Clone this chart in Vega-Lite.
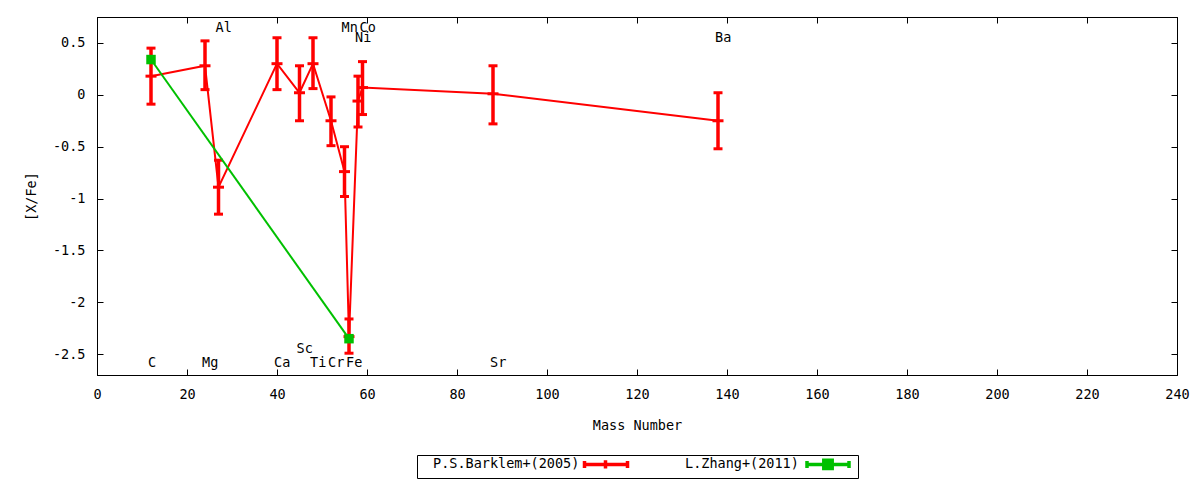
{
  "$schema": "https://vega.github.io/schema/vega-lite/v6.json",
  "width": 1080,
  "height": 358,
  "autosize": "none",
  "padding": {"left": 97, "top": 17, "right": 23, "bottom": 105},
  "background": "white",
  "config": {
    "view": {"stroke": "black", "strokeWidth": 1},
    "font": "DejaVu Sans Mono",
    "axis": {
      "labelFont": "DejaVu Sans Mono", "labelFontSize": 13.5, "labelColor": "black",
      "titleFont": "DejaVu Sans Mono", "titleFontSize": 13.5, "titleFontWeight": "normal", "titleColor": "black",
      "tickColor": "black", "domainColor": "black", "grid": false, "tickSize": -6, "labelPadding": 18,
      "labelFlush": false, "labelOverlap": false
    }
  },
  "datasets": {
    "barklem": [
      {"el": "C", "mass": 12, "val": 0.18, "lo": -0.09, "hi": 0.45},
      {"el": "Mg", "mass": 24, "val": 0.28, "lo": 0.05, "hi": 0.52},
      {"el": "Al", "mass": 27, "val": -0.89, "lo": -1.15, "hi": -0.63},
      {"el": "Ca", "mass": 40, "val": 0.30, "lo": 0.05, "hi": 0.55},
      {"el": "Sc", "mass": 45, "val": 0.02, "lo": -0.25, "hi": 0.28},
      {"el": "Ti", "mass": 48, "val": 0.30, "lo": 0.06, "hi": 0.55},
      {"el": "Cr", "mass": 52, "val": -0.25, "lo": -0.49, "hi": -0.02},
      {"el": "Mn", "mass": 55, "val": -0.74, "lo": -0.98, "hi": -0.50},
      {"el": "Fe", "mass": 56, "val": -2.33, "lo": -2.49, "hi": -2.16},
      {"el": "Ni", "mass": 58, "val": -0.06, "lo": -0.31, "hi": 0.18},
      {"el": "Co", "mass": 59, "val": 0.07, "lo": -0.19, "hi": 0.32},
      {"el": "Sr", "mass": 88, "val": 0.01, "lo": -0.28, "hi": 0.28},
      {"el": "Ba", "mass": 138, "val": -0.25, "lo": -0.52, "hi": 0.02}
    ],
    "zhang": [
      {"el": "C", "mass": 12, "val": 0.34},
      {"el": "Fe", "mass": 56, "val": -2.35}
    ],
    "labels": [
      {"el": "C", "mass": 12, "tier": "low"},
      {"el": "Mg", "mass": 24, "tier": "low"},
      {"el": "Al", "mass": 27, "tier": "high"},
      {"el": "Ca", "mass": 40, "tier": "low"},
      {"el": "Sc", "mass": 45, "tier": "low2"},
      {"el": "Ti", "mass": 48, "tier": "low"},
      {"el": "Cr", "mass": 52, "tier": "low"},
      {"el": "Mn", "mass": 55, "tier": "high"},
      {"el": "Fe", "mass": 56, "tier": "low"},
      {"el": "Ni", "mass": 58, "tier": "high2"},
      {"el": "Co", "mass": 59, "tier": "high"},
      {"el": "Sr", "mass": 88, "tier": "low"},
      {"el": "Ba", "mass": 138, "tier": "high2"}
    ],
    "legend": [
      {"series": "P.S.Barklem+(2005)"},
      {"series": "L.Zhang+(2011)"}
    ]
  },
  "layer": [
    {
      "data": {"name": "barklem"},
      "mark": {"type": "line", "color": "#ff0000", "strokeWidth": 2},
      "encoding": {
        "x": {"field": "mass", "type": "quantitative", "scale": {"domain": [0, 240], "nice": false, "zero": false},
              "axis": {"title": "Mass Number", "values": [0, 20, 40, 60, 80, 100, 120, 140, 160, 180, 200, 220, 240], "titlePadding": 18}},
        "y": {"field": "val", "type": "quantitative", "scale": {"domain": [-2.7, 0.75], "nice": false, "zero": false},
              "axis": {"title": "[X/Fe]", "values": [-2.5, -2, -1.5, -1, -0.5, 0, 0.5], "titlePadding": 14,
                       "labelExpr": "datum.value < 0 ? '-' + format(-datum.value, '~g') : format(datum.value, '~g')"}}
      }
    },
    {
      "data": {"name": "barklem"},
      "mark": {"type": "rule", "color": "#ff0000", "strokeWidth": 3.5},
      "encoding": {
        "x": {"field": "mass", "type": "quantitative", "scale": {"domain": [0, 240], "nice": false, "zero": false}, "axis": null},
        "y": {"field": "lo", "type": "quantitative", "scale": {"domain": [-2.7, 0.75], "nice": false, "zero": false}, "axis": null},
        "y2": {"field": "hi"}
      }
    },
    {
      "data": {"name": "barklem"},
      "mark": {"type": "tick", "color": "#ff0000", "orient": "horizontal", "size": 9, "thickness": 3, "opacity": 1},
      "encoding": {
        "x": {"field": "mass", "type": "quantitative", "scale": {"domain": [0, 240], "nice": false, "zero": false}, "axis": null},
        "y": {"field": "lo", "type": "quantitative", "scale": {"domain": [-2.7, 0.75], "nice": false, "zero": false}, "axis": null}
      }
    },
    {
      "data": {"name": "barklem"},
      "mark": {"type": "tick", "color": "#ff0000", "orient": "horizontal", "size": 9, "thickness": 3, "opacity": 1},
      "encoding": {
        "x": {"field": "mass", "type": "quantitative", "scale": {"domain": [0, 240], "nice": false, "zero": false}, "axis": null},
        "y": {"field": "hi", "type": "quantitative", "scale": {"domain": [-2.7, 0.75], "nice": false, "zero": false}, "axis": null}
      }
    },
    {
      "data": {"name": "barklem"},
      "mark": {"type": "tick", "color": "#ff0000", "orient": "horizontal", "size": 11, "thickness": 3, "opacity": 1},
      "encoding": {
        "x": {"field": "mass", "type": "quantitative", "scale": {"domain": [0, 240], "nice": false, "zero": false}, "axis": null},
        "y": {"field": "val", "type": "quantitative", "scale": {"domain": [-2.7, 0.75], "nice": false, "zero": false}, "axis": null}
      }
    },
    {
      "data": {"name": "zhang"},
      "mark": {"type": "line", "color": "#00c000", "strokeWidth": 2},
      "encoding": {
        "x": {"field": "mass", "type": "quantitative", "scale": {"domain": [0, 240], "nice": false, "zero": false}, "axis": null},
        "y": {"field": "val", "type": "quantitative", "scale": {"domain": [-2.7, 0.75], "nice": false, "zero": false}, "axis": null}
      }
    },
    {
      "data": {"name": "zhang"},
      "mark": {"type": "point", "shape": "square", "filled": true, "color": "#00c000", "size": 90, "opacity": 1},
      "encoding": {
        "x": {"field": "mass", "type": "quantitative", "scale": {"domain": [0, 240], "nice": false, "zero": false}, "axis": null},
        "y": {"field": "val", "type": "quantitative", "scale": {"domain": [-2.7, 0.75], "nice": false, "zero": false}, "axis": null}
      }
    },
    {
      "data": {"name": "labels"},
      "transform": [{"filter": "datum.tier === 'low'"}],
      "mark": {"type": "text", "align": "left", "baseline": "middle", "dx": -3, "font": "DejaVu Sans Mono", "fontSize": 13.5, "color": "black"},
      "encoding": {
        "x": {"field": "mass", "type": "quantitative", "scale": {"domain": [0, 240], "nice": false, "zero": false}, "axis": null},
        "y": {"datum": -2.58, "type": "quantitative", "scale": {"domain": [-2.7, 0.75], "nice": false, "zero": false}, "axis": null},
        "text": {"field": "el"}
      }
    },
    {
      "data": {"name": "labels"},
      "transform": [{"filter": "datum.tier === 'low2'"}],
      "mark": {"type": "text", "align": "left", "baseline": "middle", "dx": -3, "font": "DejaVu Sans Mono", "fontSize": 13.5, "color": "black"},
      "encoding": {
        "x": {"field": "mass", "type": "quantitative", "scale": {"domain": [0, 240], "nice": false, "zero": false}, "axis": null},
        "y": {"datum": -2.445, "type": "quantitative", "scale": {"domain": [-2.7, 0.75], "nice": false, "zero": false}, "axis": null},
        "text": {"field": "el"}
      }
    },
    {
      "data": {"name": "labels"},
      "transform": [{"filter": "datum.tier === 'high'"}],
      "mark": {"type": "text", "align": "left", "baseline": "middle", "dx": -3, "font": "DejaVu Sans Mono", "fontSize": 13.5, "color": "black"},
      "encoding": {
        "x": {"field": "mass", "type": "quantitative", "scale": {"domain": [0, 240], "nice": false, "zero": false}, "axis": null},
        "y": {"datum": 0.645, "type": "quantitative", "scale": {"domain": [-2.7, 0.75], "nice": false, "zero": false}, "axis": null},
        "text": {"field": "el"}
      }
    },
    {
      "data": {"name": "labels"},
      "transform": [{"filter": "datum.tier === 'high2'"}],
      "mark": {"type": "text", "align": "left", "baseline": "middle", "dx": -3, "font": "DejaVu Sans Mono", "fontSize": 13.5, "color": "black"},
      "encoding": {
        "x": {"field": "mass", "type": "quantitative", "scale": {"domain": [0, 240], "nice": false, "zero": false}, "axis": null},
        "y": {"datum": 0.55, "type": "quantitative", "scale": {"domain": [-2.7, 0.75], "nice": false, "zero": false}, "axis": null},
        "text": {"field": "el"}
      }
    },
    {
      "data": {"name": "barklem"},
      "mark": {"type": "point", "opacity": 0},
      "encoding": {
        "x": {"field": "mass", "type": "quantitative", "scale": {"domain": [0, 240], "nice": false, "zero": false},
              "axis": {"orient": "top", "labels": false, "title": null, "values": [0, 20, 40, 60, 80, 100, 120, 140, 160, 180, 200, 220, 240]}},
        "y": {"field": "val", "type": "quantitative", "scale": {"domain": [-2.7, 0.75], "nice": false, "zero": false},
              "axis": {"orient": "right", "labels": false, "title": null, "values": [-2.5, -2, -1.5, -1, -0.5, 0, 0.5]}}
      }
    },
    {
      "data": {"name": "legend"},
      "mark": {"type": "point", "filled": true, "opacity": 0},
      "encoding": {
        "fill": {"field": "series", "type": "nominal",
                 "scale": {"domain": ["P.S.Barklem+(2005)", "L.Zhang+(2011)"], "range": ["#ff0000", "#00c000"]},
                 "legend": {"title": null, "orient": "none", "legendX": 320, "legendY": 438, "direction": "horizontal",
                            "strokeColor": "black", "padding": 2, "columnPadding": 36, "labelFont": "DejaVu Sans Mono",
                            "labelFontSize": 13.5, "labelColor": "black", "symbolSize": 100, "symbolStrokeWidth": 3.5,
                            "symbolOpacity": 1, "labelOffset": 0, "labelLimit": 400}},
        "stroke": {"field": "series", "type": "nominal",
                   "scale": {"domain": ["P.S.Barklem+(2005)", "L.Zhang+(2011)"], "range": ["#ff0000", "#00c000"]},
                   "legend": {"title": null, "orient": "none", "legendX": 320, "legendY": 438, "direction": "horizontal",
                              "strokeColor": "black", "padding": 2, "columnPadding": 36, "labelFont": "DejaVu Sans Mono",
                              "labelFontSize": 13.5, "labelColor": "black", "symbolSize": 100, "symbolStrokeWidth": 3.5,
                              "symbolOpacity": 1, "labelOffset": 0, "labelLimit": 400}},
        "shape": {"field": "series", "type": "nominal",
                  "scale": {"domain": ["P.S.Barklem+(2005)", "L.Zhang+(2011)"],
                            "range": ["M31.7,0H40.3M31.7,-0.7V0.7M40.3,-0.7V0.7M35.9,-0.84V0.84",
                                      "M25.8,0H34.2M25.8,-0.7V0.7M34.2,-0.7V0.7M29.16,-0.84H30.84V0.84H29.16Z"]},
                  "legend": {"title": null, "orient": "none", "legendX": 320, "legendY": 438, "direction": "horizontal",
                             "strokeColor": "black", "padding": 2, "columnPadding": 36, "labelFont": "DejaVu Sans Mono",
                             "labelFontSize": 13.5, "labelColor": "black", "symbolSize": 100, "symbolStrokeWidth": 3.5,
                             "symbolOpacity": 1, "labelOffset": 0, "labelLimit": 400}}
      }
    }
  ],
  "resolve": {"axis": {"x": "independent", "y": "independent"}}
}
